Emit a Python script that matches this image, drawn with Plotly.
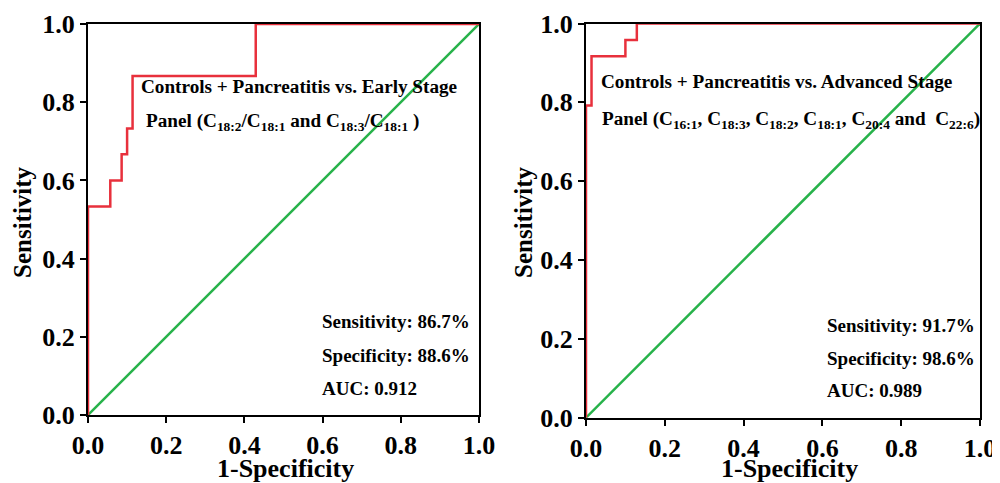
import plotly.graph_objects as go

# Left panel: Controls + Pancreatitis vs. Early Stage
early_fpr = [0.0, 0.0, 0.057, 0.057, 0.086, 0.086, 0.100, 0.100, 0.114, 0.114, 0.429, 0.429, 1.0]
early_tpr = [0.0, 0.533, 0.533, 0.600, 0.600, 0.667, 0.667, 0.733, 0.733, 0.867, 0.867, 1.0, 1.0]

# Right panel: Controls + Pancreatitis vs. Advanced Stage
adv_fpr = [0.0, 0.0, 0.014, 0.014, 0.100, 0.100, 0.129, 0.129, 1.0]
adv_tpr = [0.0, 0.792, 0.792, 0.917, 0.917, 0.958, 0.958, 1.0, 1.0]

ref_line = [0.0, 1.0]

ticks = [0.0, 0.2, 0.4, 0.6, 0.8, 1.0]
tick_text = ["0.0", "0.2", "0.4", "0.6", "0.8", "1.0"]

left_title = ["Controls + Pancreatitis vs. Early Stage",
              "Panel (C<sub>18:2</sub>/C<sub>18:1</sub> and C<sub>18:3</sub>/C<sub>18:1</sub> )"]
right_title = ["Controls + Pancreatitis vs. Advanced Stage",
               "Panel (C<sub>16:1</sub>, C<sub>18:3</sub>, C<sub>18:2</sub>, C<sub>18:1</sub>, C<sub>20:4</sub> and  C<sub>22:6</sub>)"]
left_stats = ["Sensitivity: 86.7%", "Specificity: 88.6%", "AUC: 0.912"]
right_stats = ["Sensitivity: 91.7%", "Specificity: 98.6%", "AUC: 0.989"]

RED = "#e8303c"
GREEN = "#27b24a"
FONT = "Liberation Serif"

# page body has an 8px margin; figure sized to fit the window
W, H, OFF = 992, 475, 8
def px(X):
    return (X - OFF) / W
def py(Y):
    return 1 - (Y - OFF) / H

fig = go.Figure()
for xa, ya, fpr, tpr in [("x", "y", early_fpr, early_tpr), ("x2", "y2", adv_fpr, adv_tpr)]:
    fig.add_trace(go.Scatter(x=ref_line, y=ref_line, mode="lines", xaxis=xa, yaxis=ya,
                             line=dict(color=GREEN, width=2.5), cliponaxis=False, showlegend=False))
    fig.add_trace(go.Scatter(x=fpr, y=tpr, mode="lines", xaxis=xa, yaxis=ya,
                             line=dict(color=RED, width=2.5), cliponaxis=False, showlegend=False))

axis_common = dict(range=[0, 1], tickvals=ticks, ticktext=tick_text, showgrid=False, zeroline=False,
                   showline=True, linecolor="black", linewidth=2, mirror=True, automargin=False,
                   ticks="outside", ticklen=6, tickwidth=2, tickcolor="black",
                   tickfont=dict(family=FONT, size=26, color="black", weight="bold"))

fig.update_layout(
    width=W, height=H, margin=dict(l=0, r=0, t=0, b=0),
    paper_bgcolor="white", plot_bgcolor="white",
    xaxis=dict(domain=[px(88), px(479)], anchor="y", **axis_common),
    yaxis=dict(domain=[py(415), py(24)], anchor="x", **axis_common),
    xaxis2=dict(domain=[px(586), px(980)], anchor="y2", **axis_common),
    yaxis2=dict(domain=[py(417.7), py(23.5)], anchor="x2", **axis_common),
)

ann = []
bold = lambda s: "<b>" + s + "</b>"
def add_text(xref, yref, x, y, text, size, xanchor="left"):
    ann.append(dict(xref=xref, yref=yref, x=x, y=y, text=bold(text), showarrow=False,
                    xanchor=xanchor, yanchor="middle",
                    font=dict(family=FONT, size=size, color="black")))

add_text("x", "y", 0.130, 0.839, left_title[0], 19.2)
add_text("x", "y", 0.143, 0.749, left_title[1], 19.2)
add_text("x2", "y2", 0.033, 0.852, right_title[0], 19.2)
add_text("x2", "y2", 0.036, 0.756, right_title[1], 19.2)
for i, yv in enumerate([0.238, 0.151, 0.069]):
    add_text("x", "y", 0.593, yv, left_stats[i], 19)
for i, yv in enumerate([0.235, 0.149, 0.068]):
    add_text("x2", "y2", 0.607, yv, right_stats[i], 19)

# Axis titles
for xc, yc in [(285, 468), (789, 468)]:
    ann.append(dict(xref="paper", yref="paper", x=px(xc), y=py(yc), text="<b>1-Specificity</b>",
                    showarrow=False, xanchor="center", yanchor="middle",
                    font=dict(family=FONT, size=26, color="black")))
for xc, yc in [(22, 222), (523, 222)]:
    ann.append(dict(xref="paper", yref="paper", x=px(xc), y=py(yc), text="<b>Sensitivity</b>",
                    showarrow=False, textangle=-90, xanchor="center", yanchor="middle",
                    font=dict(family=FONT, size=25, color="black")))

fig.update_layout(annotations=ann)
fig.write_html("out.html")
